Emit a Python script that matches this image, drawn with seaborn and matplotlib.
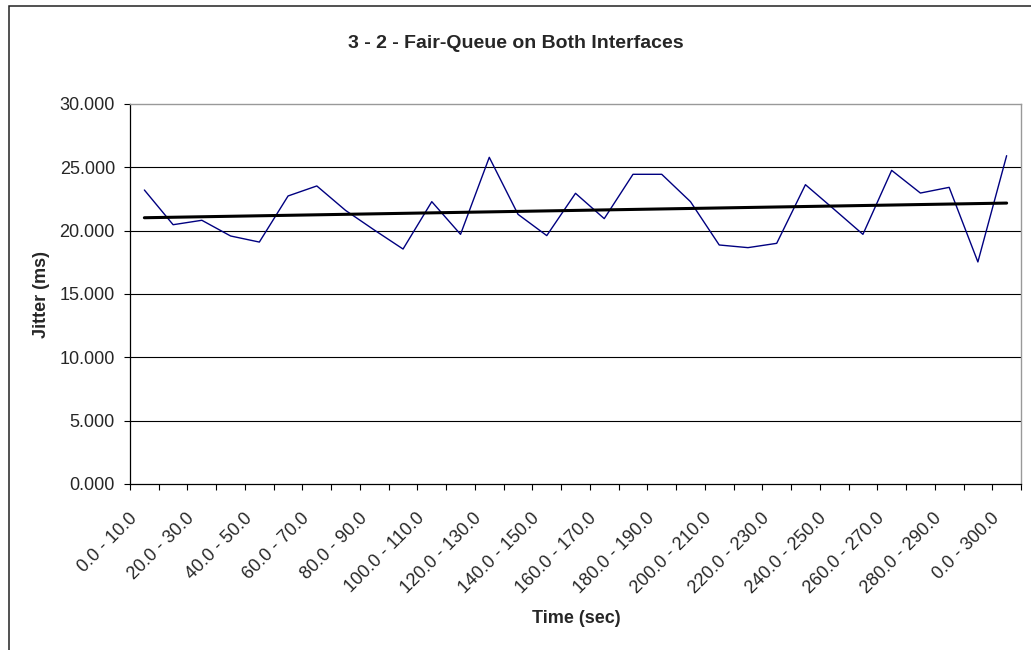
import numpy as np
import pandas as pd
import matplotlib
matplotlib.use("Agg")
import matplotlib.pyplot as plt
from matplotlib.patches import Rectangle
from matplotlib.transforms import ScaledTranslation
import seaborn as sns

# Time intervals (seconds) and measured jitter (ms)
intervals = [f"{s:.1f} - {s + 10:.1f}" for s in range(0, 300, 10)] + ["0.0 - 300.0"]
jitter_ms = [23.21, 20.47, 20.82, 19.58, 19.10, 22.74, 23.53, 21.60, 20.05, 18.55,
             22.29, 19.71, 25.79, 21.29, 19.61, 22.95, 20.95, 24.45, 24.45, 22.29,
             18.87, 18.66, 19.00, 23.63, 21.68, 19.71, 24.76, 22.97, 23.42, 17.53,
             25.92]
y_ticks = [0, 5, 10, 15, 20, 25, 30]

df = pd.DataFrame({"idx": np.arange(len(intervals)), "interval": intervals,
                   "jitter": jitter_ms})

sns.set_style("white")
plt.rcParams["font.family"] = ["Liberation Sans", "DejaVu Sans"]

W, H = 1031, 650
fig = plt.figure(figsize=(W / 100, H / 100), dpi=100)
ax = fig.add_axes([130 / W, 1 - 484 / H, (1021 - 130) / W, (484 - 104) / H])

# Horizontal gridlines
for yv in y_ticks[1:-1]:
    ax.axhline(yv, color="black", lw=0.8, zorder=0)

sns.lineplot(data=df, x="idx", y="jitter", ax=ax, color="#000080", lw=1.0,
             zorder=3)
# Linear trend over the whole series
sns.regplot(data=df, x="idx", y="jitter", ax=ax, scatter=False, ci=None,
            line_kws={"color": "black", "lw": 2.2, "zorder": 4})

ax.set_xlim(-0.5, len(intervals) - 0.5)
ax.set_ylim(0, 30)
ax.set_yticks(y_ticks)
ax.set_yticklabels([f"{v:.3f}" for v in y_ticks], fontsize=13)

label_idx = list(range(0, len(intervals), 2))
ax.set_xticks(label_idx)
ax.set_xticklabels([intervals[i] for i in label_idx], rotation=45,
                   ha="right", va="center", rotation_mode="anchor", fontsize=13)
ax.set_xticks(np.arange(-0.5, len(intervals), 1.0), minor=True)
ax.tick_params(axis="x", which="major", length=0, pad=23)
ax.tick_params(axis="x", which="minor", length=4.3, width=0.8, color="black",
               direction="out", bottom=True)
ax.tick_params(axis="y", length=4.3, width=0.8, color="black", direction="out",
               left=True, pad=6.5)

# Nudge the slanted category labels left of their tick centres
shift = ScaledTranslation(-10 / 100, 0, fig.dpi_scale_trans)
for lbl in ax.get_xticklabels():
    lbl.set_transform(lbl.get_transform() + shift)

for side in ("left", "bottom"):
    ax.spines[side].set_color("black")
    ax.spines[side].set_linewidth(0.9)
for side in ("top", "right"):
    ax.spines[side].set_visible(True)
    ax.spines[side].set_color("#999999")
    ax.spines[side].set_linewidth(1.0)

ax.set_xlabel("Time (sec)", fontsize=13, fontweight="bold")
ax.xaxis.set_label_coords((576 - 130) / 891, -(610 - 484) / 380)
ax.set_ylabel("Jitter (ms)", fontsize=13, fontweight="bold")
ax.yaxis.set_label_coords(-(130 - 50) / 891, 0.5)

fig.text(516 / W, 1 - 43 / H, "3 - 2 - Fair-Queue on Both Interfaces",
         ha="center", va="center", fontsize=14, fontweight="bold")

# Chart frame
fig.patches.append(Rectangle((8.5 / W, -0.01), 1.02, 1 - 6 / H + 0.01,
                             transform=fig.transFigure, fill=False,
                             edgecolor="#222222", lw=1.1))

fig.savefig("out.png", dpi=100)
